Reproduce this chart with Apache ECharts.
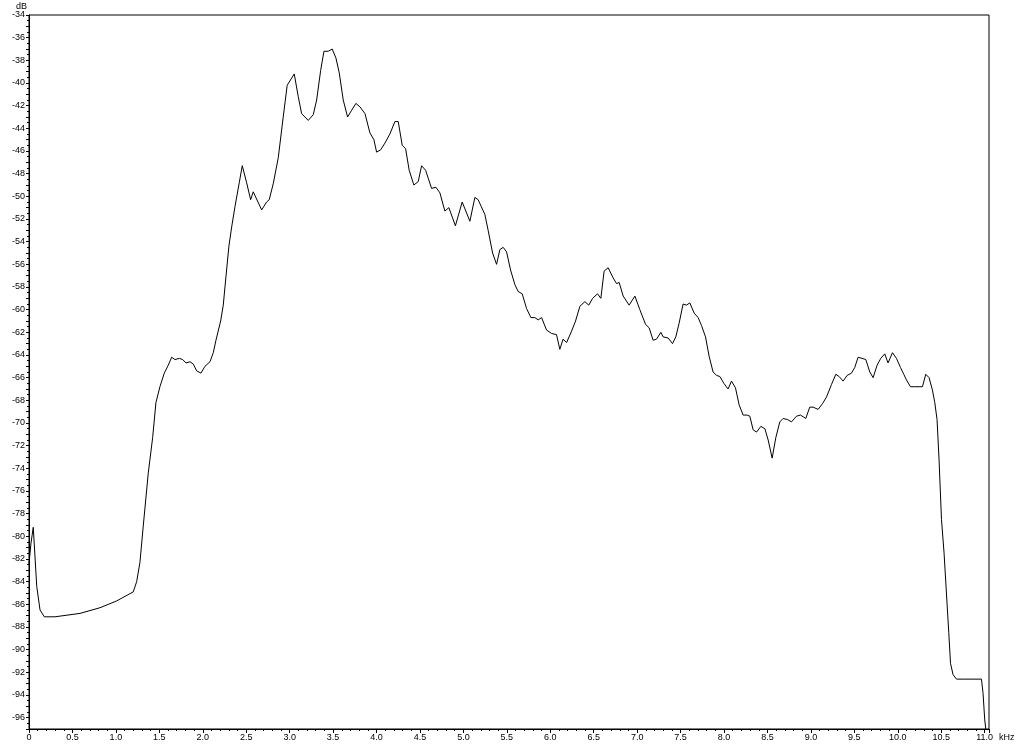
<!DOCTYPE html>
<html>
<head>
<meta charset="utf-8">
<script src="https://cdn.jsdelivr.net/npm/echarts@6/dist/echarts.min.js"></script>
<style>
html,body{margin:0;padding:0;background:#fff;}
#chart{width:1024px;height:745px;}
</style>
</head>
<body>
<div id="chart"></div>
<script>
// frequency (kHz)
const freqKHz = [
0,0.023,0.049,0.089,0.127,0.176,0.299,0.587,0.817,1.009,1.200,1.239,1.277,1.315,1.373,1.423,1.461,1.507,1.557,1.603,
1.642,1.680,1.730,1.769,1.807,1.853,1.891,1.930,1.979,2.025,2.083,2.121,2.152,2.206,2.236,2.267,2.301,2.333,2.371,2.420,
2.455,2.505,2.551,2.581,2.678,2.735,2.765,2.811,2.869,2.926,2.972,3.053,3.099,3.138,3.214,3.272,3.311,3.357,3.395,3.444,
3.490,3.533,3.571,3.617,3.667,3.714,3.763,3.809,3.867,3.924,3.970,4.001,4.047,4.097,4.154,4.212,4.250,4.296,4.335,4.376,
4.430,4.480,4.519,4.565,4.634,4.684,4.730,4.787,4.833,4.908,4.986,5.075,5.132,5.170,5.247,5.285,5.336,5.382,5.420,5.458,
5.497,5.543,5.593,5.631,5.677,5.727,5.777,5.823,5.861,5.900,5.957,6.015,6.072,6.110,6.148,6.188,6.245,6.291,6.341,6.398,
6.444,6.487,6.544,6.582,6.620,6.666,6.724,6.763,6.793,6.839,6.908,6.974,7.031,7.097,7.138,7.184,7.223,7.273,7.299,7.357,
7.407,7.445,7.483,7.529,7.568,7.606,7.656,7.702,7.741,7.787,7.828,7.874,7.914,7.952,7.998,8.047,8.086,8.132,8.174,8.220,
8.266,8.297,8.335,8.374,8.424,8.470,8.508,8.554,8.596,8.642,8.680,8.731,8.777,8.834,8.880,8.941,8.987,9.025,9.083,9.133,
9.180,9.237,9.287,9.325,9.371,9.417,9.467,9.505,9.543,9.589,9.632,9.678,9.716,9.762,9.804,9.850,9.888,9.939,9.985,10.031,
10.069,10.100,10.146,10.196,10.245,10.284,10.322,10.360,10.399,10.426,10.452,10.475,10.503,10.533,10.560,10.587,10.607,10.636,10.676,10.752,
10.867,10.963,10.981,11.001,11.013
];
// level (dB)
const levelDB = [
-82.4,-80.6,-79.2,-84.4,-86.5,-87.1,-87.1,-86.8,-86.3,-85.7,-84.9,-84.0,-82.3,-79.1,-74.4,-71.3,-68.2,-66.8,-65.6,-64.9,
-64.2,-64.4,-64.3,-64.4,-64.7,-64.6,-64.8,-65.4,-65.6,-65.0,-64.6,-63.8,-62.7,-61.0,-59.6,-57.1,-54.4,-52.7,-50.9,-48.8,
-47.3,-48.8,-50.3,-49.6,-51.2,-50.5,-50.3,-48.9,-46.6,-43.0,-40.2,-39.2,-41.2,-42.7,-43.3,-42.8,-41.5,-38.9,-37.2,-37.2,
-37.0,-37.8,-39.1,-41.5,-43.0,-42.4,-41.8,-42.1,-42.7,-44.4,-45.0,-46.1,-45.9,-45.3,-44.5,-43.4,-43.4,-45.5,-45.8,-47.7,
-49.0,-48.7,-47.3,-47.7,-49.3,-49.2,-49.7,-51.3,-51.0,-52.6,-50.5,-52.2,-50.1,-50.3,-51.6,-53.0,-55.0,-56.0,-54.7,-54.5,
-54.9,-56.5,-57.8,-58.4,-58.6,-59.9,-60.7,-60.7,-60.9,-60.7,-61.8,-62.1,-62.2,-63.5,-62.6,-62.9,-61.9,-61.0,-59.7,-59.3,
-59.6,-59.0,-58.6,-59.0,-56.6,-56.3,-57.2,-57.7,-57.6,-58.8,-59.6,-58.8,-60.0,-61.3,-61.6,-62.7,-62.6,-62.0,-62.4,-62.5,
-63.0,-62.4,-61.2,-59.5,-59.6,-59.4,-60.3,-60.7,-61.4,-62.4,-64.1,-65.5,-65.8,-65.9,-66.5,-67.0,-66.3,-66.9,-68.4,-69.3,
-69.3,-69.4,-70.6,-70.8,-70.3,-70.5,-71.5,-73.1,-71.3,-69.9,-69.6,-69.7,-69.9,-69.4,-69.3,-69.6,-68.6,-68.6,-68.8,-68.3,
-67.7,-66.6,-65.7,-65.9,-66.3,-65.8,-65.6,-65.1,-64.2,-64.3,-64.4,-65.5,-66.0,-64.9,-64.3,-63.9,-64.7,-63.8,-64.3,-65.1,
-65.7,-66.2,-66.8,-66.8,-66.8,-66.8,-65.7,-66.0,-67.1,-68.2,-69.7,-73.2,-78.5,-81.5,-85.0,-88.5,-91.2,-92.2,-92.6,-92.6,
-92.6,-92.6,-93.8,-96.2,-97
];

const seriesData = freqKHz.map((f, i) => [f, levelDB[i]]);
const font = 'Liberation Sans, Arial, sans-serif';

const chart = echarts.init(document.getElementById('chart'), null, {renderer: 'canvas'});
chart.setOption({
  animation: false,
  backgroundColor: '#ffffff',
  grid: {
    left: 29, right: 35, top: 15, bottom: 16,
    show: true, borderColor: '#000', borderWidth: 1, backgroundColor: 'transparent',
    containLabel: false, outerBoundsMode: 'none'
  },
  xAxis: {
    type: 'value',
    min: 0, max: 11.05, interval: 0.5,
    name: 'kHz', nameLocation: 'end', nameGap: -1,
    nameTextStyle: {fontFamily: font, fontSize: 9, color: '#000', verticalAlign: 'top', padding: [4, 0, 0, 0]},
    axisLine: {show: true, lineStyle: {color: '#000', width: 1}},
    axisTick: {show: true, length: 4, lineStyle: {color: '#000'}},
    minorTick: {show: true, splitNumber: 5, length: 2, lineStyle: {color: '#000'}},
    splitLine: {show: false},
    axisLabel: {
      fontFamily: font, fontSize: 9, color: '#000', margin: 4,
      showMaxLabel: false,
      formatter: v => (Math.abs(v) < 1e-9 ? '0' : (Math.abs(v - 11.05) < 1e-6 ? '' : v.toFixed(1)))
    }
  },
  yAxis: {
    type: 'value',
    min: -97, max: -34, interval: 1,
    name: 'dB', nameLocation: 'end', nameGap: 3,
    nameTextStyle: {fontFamily: font, fontSize: 9, color: '#000', align: 'right', padding: [0, 2, 0, 0]},
    axisLine: {show: true, lineStyle: {color: '#000', width: 1}},
    axisTick: {show: true, length: 3, lineStyle: {color: '#000'}},
    minorTick: {show: true, splitNumber: 2, length: 2, lineStyle: {color: '#000'}},
    splitLine: {show: false},
    axisLabel: {
      fontFamily: font, fontSize: 9, color: '#000', margin: 4,
      formatter: v => (Math.round(v) % 2 === 0 ? String(Math.round(v)) : '')
    }
  },
  series: [{
    type: 'line',
    data: seriesData,
    showSymbol: false,
    symbol: 'none',
    smooth: false,
    clip: true,
    lineStyle: {color: '#000', width: 1},
    silent: true
  }]
});
</script>
</body>
</html>
